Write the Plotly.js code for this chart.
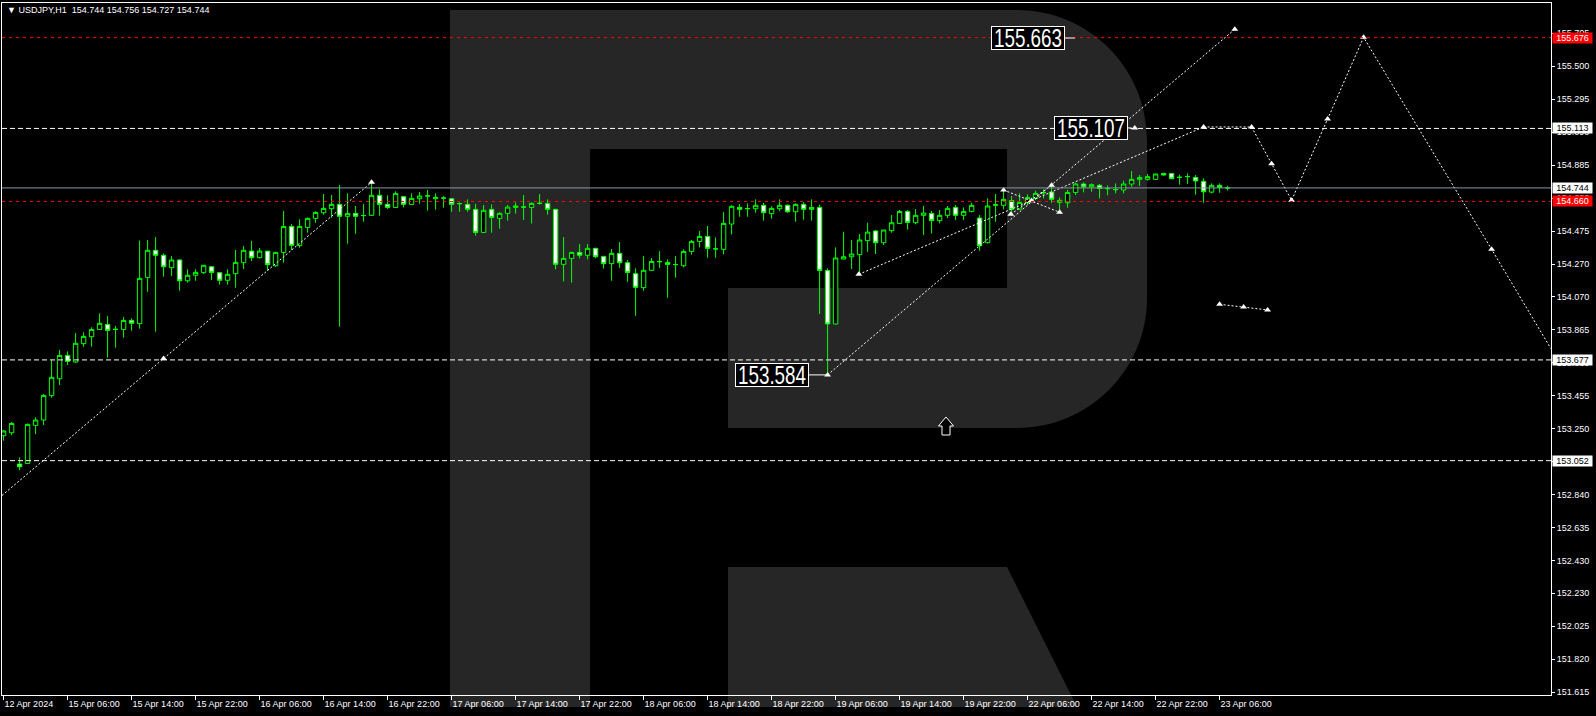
<!DOCTYPE html>
<html><head><meta charset="utf-8">
<script src="https://cdn.plot.ly/plotly-3.0.1.min.js"></script>
<style>html,body{margin:0;padding:0;background:#000;overflow:hidden}#chart{width:1596px;height:716px}</style>
</head><body><div id="chart"></div>
<script>
// ---------- DATA ----------
const opens = [153.207,153.225,153.031,153.035,153.271,153.304,153.455,153.560,153.705,153.664,
153.778,153.821,153.866,153.897,153.866,153.866,153.922,153.902,154.189,154.357,
154.326,154.249,154.297,154.168,154.202,154.218,154.255,154.218,154.171,154.212,
154.280,154.352,154.311,154.352,154.261,154.344,154.505,154.386,154.499,154.555,
154.590,154.615,154.642,154.568,154.586,154.572,154.574,154.698,154.642,154.623,
154.690,154.642,154.677,154.694,154.677,154.681,154.677,154.646,154.642,154.611,
154.468,154.611,154.555,154.586,154.623,154.625,154.623,154.648,154.648,154.611,
154.270,154.307,154.344,154.326,154.369,154.319,154.274,154.338,154.280,154.212,
154.125,154.233,154.286,154.282,154.268,154.261,154.350,154.412,154.443,154.365,
154.363,154.520,154.623,154.615,154.615,154.636,154.584,154.615,154.636,154.596,
154.642,154.611,154.623,154.232,153.900,154.303,154.317,154.330,154.417,154.477,
154.404,154.479,154.524,154.598,154.528,154.574,154.586,154.541,154.574,154.623,
154.574,154.598,154.557,154.404,154.636,154.636,154.665,154.613,154.652,154.679,
154.714,154.718,154.654,154.652,154.716,154.768,154.751,154.760,154.739,154.733,
154.731,154.768,154.797,154.797,154.797,154.834,154.834,154.809,154.814,154.809,
154.785,154.718,154.760,154.744];
const highs = [153.242,153.292,153.072,153.283,153.321,153.465,153.676,153.738,153.730,153.844,
153.848,153.879,153.966,153.949,153.887,153.943,153.935,154.417,154.421,154.439,
154.338,154.321,154.301,154.239,154.239,154.266,154.259,154.222,154.239,154.359,
154.383,154.415,154.371,154.354,154.348,154.601,154.520,154.549,154.561,154.599,
154.706,154.700,154.762,154.710,154.632,154.644,154.776,154.735,154.698,154.723,
154.694,154.710,154.719,154.731,154.710,154.694,154.681,154.654,154.673,154.646,
154.638,154.642,154.594,154.638,154.654,154.700,154.654,154.706,154.673,154.615,
154.439,154.348,154.396,154.396,154.373,154.323,154.365,154.408,154.297,154.245,
154.321,154.309,154.352,154.301,154.321,154.363,154.421,154.477,154.508,154.437,
154.594,154.636,154.644,154.648,154.673,154.652,154.630,154.673,154.642,154.648,
154.656,154.673,154.640,154.245,154.375,154.472,154.421,154.458,154.528,154.483,
154.483,154.576,154.607,154.607,154.613,154.632,154.601,154.607,154.632,154.638,
154.623,154.652,154.576,154.679,154.706,154.741,154.694,154.710,154.704,154.727,
154.735,154.772,154.685,154.731,154.776,154.778,154.772,154.768,154.760,154.772,
154.789,154.849,154.824,154.830,154.834,154.838,154.836,154.826,154.834,154.824,
154.803,154.772,154.772,154.756];
const lows = [153.176,153.211,152.994,153.031,153.217,153.273,153.443,153.521,153.645,153.658,
153.759,153.759,153.862,153.691,153.753,153.815,153.858,153.871,154.100,153.852,
154.193,154.197,154.106,154.156,154.168,154.210,154.173,154.144,154.144,154.125,
154.241,154.290,154.307,154.230,154.255,154.280,154.359,154.373,154.466,154.528,
154.578,154.559,153.883,154.398,154.460,154.534,154.570,154.572,154.613,154.621,
154.623,154.640,154.646,154.603,154.609,154.621,154.596,154.596,154.596,154.448,
154.464,154.466,154.491,154.541,154.584,154.545,154.524,154.640,154.578,154.239,
154.164,154.156,154.307,154.301,154.307,154.243,154.168,154.249,154.162,153.951,
154.106,154.228,154.247,154.063,154.187,154.251,154.330,154.375,154.311,154.311,
154.332,154.456,154.565,154.565,154.590,154.541,154.553,154.599,154.590,154.534,
154.547,154.541,153.962,153.584,153.895,154.301,154.241,154.208,154.348,154.334,
154.390,154.466,154.520,154.485,154.518,154.452,154.462,154.524,154.557,154.545,
154.545,154.592,154.354,154.400,154.534,154.611,154.576,154.607,154.638,154.669,
154.679,154.652,154.596,154.621,154.700,154.716,154.720,154.679,154.698,154.710,
154.710,154.751,154.756,154.789,154.793,154.820,154.799,154.764,154.768,154.702,
154.652,154.710,154.714,154.727];
const closes = [153.236,153.283,153.014,153.277,153.304,153.457,153.569,153.705,153.668,153.780,
153.823,153.866,153.904,153.860,153.867,153.922,153.904,154.183,154.357,154.326,
154.255,154.297,154.168,154.202,154.220,154.264,154.220,154.171,154.208,154.282,
154.357,154.311,154.352,154.268,154.344,154.505,154.388,154.505,154.555,154.592,
154.617,154.642,154.568,154.586,154.568,154.573,154.698,154.642,154.623,154.710,
154.642,154.679,154.694,154.695,154.685,154.681,154.642,154.647,154.611,154.468,
154.605,154.561,154.586,154.625,154.632,154.626,154.648,154.649,154.611,154.270,
154.307,154.344,154.326,154.369,154.317,154.274,154.338,154.280,154.220,154.127,
154.233,154.288,154.287,154.270,154.269,154.350,154.412,154.443,154.369,154.366,
154.524,154.630,154.611,154.616,154.636,154.590,154.617,154.636,154.596,154.642,
154.611,154.623,154.232,153.900,154.309,154.317,154.334,154.421,154.470,154.404,
154.483,154.528,154.598,154.530,154.574,154.588,154.541,154.574,154.617,154.574,
154.598,154.636,154.385,154.632,154.640,154.673,154.611,154.654,154.685,154.710,
154.715,154.673,154.667,154.716,154.768,154.751,154.764,154.741,154.740,154.734,
154.768,154.797,154.809,154.814,154.830,154.824,154.801,154.810,154.815,154.787,
154.720,154.760,154.747,154.744];

const xTickIdx = [0,8,16,24,32,40,48,56,64,72,80,88,96,104,112,120,128,136,144,152];
const xTickText = ["12 Apr 2024","15 Apr 06:00","15 Apr 14:00","15 Apr 22:00","16 Apr 06:00",
"16 Apr 14:00","16 Apr 22:00","17 Apr 06:00","17 Apr 14:00","17 Apr 22:00","18 Apr 06:00",
"18 Apr 14:00","18 Apr 22:00","19 Apr 06:00","19 Apr 14:00","19 Apr 22:00","22 Apr 06:00",
"22 Apr 14:00","22 Apr 22:00","23 Apr 06:00"];
const yTickVals = [155.705,155.500,155.295,155.090,154.885,154.680,154.475,154.270,154.070,153.865,
153.660,153.455,153.250,153.045,152.840,152.635,152.430,152.230,152.025,151.820,151.615];

const redLevels = [155.676, 154.660];
const whiteLevels = [155.113, 153.677, 153.052];
const currentPrice = 154.744;
const titleText = "\u25BC USDJPY,H1\u00a0\u00a0154.744 154.756 154.727 154.744";

// drawn trend / forecast lines (bar index, price)
const lineA_x = [-0.2, 20, 46],          lineA_y = [152.836, 153.686, 154.779];
const lineB_x = [103, 153.9],            lineB_y = [153.584, 155.728];
const lineC_x = [106.9, 150],            lineC_y = [154.208, 155.122];
const lineD_x = [125, 132],              lineD_y = [154.731, 154.593];
const lineE_x = [125.9, 131],            lineE_y = [154.580, 154.760];
const zig_x = [150, 156, 158.5, 161, 165.5, 170, 186, 193.4];
const zig_y = [155.122, 155.122, 154.894, 154.667, 155.171, 155.678, 154.363, 153.748];
const segG_x = [152, 155, 158],          segG_y = [154.022, 154.005, 153.987];
const arrowMark_x = [20, 46, 103, 153.9, 106.9, 150, 125, 132, 125.9, 131, 128.5, 156, 158.5, 161, 165.5, 170, 186, 152, 155, 158, 141.4];
const arrowMark_y = [153.686, 154.779, 153.584, 155.728, 154.208, 155.122, 154.731, 154.593, 154.580, 154.760, 154.665, 155.122, 154.894, 154.667, 155.171, 155.678, 154.363, 154.022, 154.005, 153.987, 155.116];

const bigLabels = [
  {text: "155.663", x: 133.9, y: 155.674, ax: -46.7},
  {text: "155.107", x: 141.0, y: 155.116, ax: -40.6},
  {text: "153.584", x: 103.0, y: 153.584, ax: -55.4}
];

// ---------- LAYOUT HELPERS (pixel -> paper, decorations only) ----------
const PL = 2, PT = 3, PW = 1549, PH = 692;
const pxX = v => (v - PL) / PW;
const pxY = v => (PT + PH - v) / PH;
function pathPx(s) {
  const tok = s.trim().split(/\s+/); let n = 0; const out = [];
  for (const t of tok) {
    if (/^[A-Za-z]$/.test(t)) { out.push(t); continue; }
    const v = parseFloat(t);
    out.push((n % 2 === 0 ? pxX(v) : pxY(v)).toFixed(5)); n++;
  }
  return out.join(' ');
}
const wm = '#262626';
const shapes = [
  {type:'path', xref:'paper', yref:'paper', layer:'below', line:{width:0}, fillcolor:wm,
   path: pathPx('M 450 10 L 1017 10 C 1088.8 10 1147 68.2 1147 140 L 1147 298 C 1147 369.8 1088.8 428 1017 428 L 728 428 L 728 288 L 1007 288 L 1007 149 L 590 149 L 590 707 L 450 707 Z')},
  {type:'path', xref:'paper', yref:'paper', layer:'below', line:{width:0}, fillcolor:wm,
   path: pathPx('M 728 567 L 1007 567 L 1077 707 L 728 707 Z')},
  {type:'path', xref:'paper', yref:'paper', layer:'above', line:{width:1, color:'#ffffff'}, fillcolor:'#000000',
   path: pathPx('M 946 417 L 953.5 426 L 950 426 L 950 435 L 942 435 L 942 426 L 938.5 426 Z')}
];
redLevels.forEach(v => shapes.push({type:'line', xref:'paper', x0:0, x1:1, yref:'y', y0:v, y1:v, layer:'above',
  line:{color:'#ff0000', width:1, dash:'3px,4px'}}));
whiteLevels.forEach(v => shapes.push({type:'line', xref:'paper', x0:0, x1:1, yref:'y', y0:v, y1:v, layer:'above',
  line:{color:'#ffffff', width:1, dash:'5px,3px'}}));
shapes.push({type:'line', xref:'paper', x0:0, x1:1, yref:'y', y0:currentPrice, y1:currentPrice, layer:'above',
  line:{color:'#8a96a3', width:1}});

const annotations = [
  {xref:'paper', yref:'paper', x:pxX(5), y:pxY(10), xanchor:'left', yanchor:'middle', showarrow:false,
   text:titleText, font:{family:'Liberation Sans, DejaVu Sans', size:9, color:'#ffffff'}}
];
function priceBox(v, bg, fg) {
  annotations.push({xref:'paper', yref:'y', x:1, y:v, xanchor:'left', yanchor:'middle', xshift:1,
    showarrow:false, text:v.toFixed(3), bgcolor:bg, width:39, height:10, borderpad:0,
    font:{family:'Liberation Sans, DejaVu Sans', size:9, color:fg}});
}
redLevels.forEach(v => priceBox(v, '#ff0000', '#ffffff'));
whiteLevels.forEach(v => priceBox(v, '#ffffff', '#000000'));
priceBox(currentPrice, '#ffffff', '#000000');
bigLabels.forEach(b => annotations.push({xref:'x', yref:'y', x:b.x, y:b.y, ax:b.ax, ay:0, text:b.text,
  showarrow:true, arrowhead:0, arrowwidth:1, arrowcolor:'#ffffff', bgcolor:'#000000', bordercolor:'#ffffff',
  borderwidth:1, borderpad:1, width:70, height:20,
  font:{family:'Liberation Sans, DejaVu Sans', size:26, color:'#ffffff'}}));

// ---------- TRACES ----------
const idx = opens.map((_, i) => i);
const dotted = {color:'#ffffff', width:1, dash:'2px,2px'};
const traces = [
  {type:'candlestick', x:idx, open:opens, high:highs, low:lows, close:closes, whiskerwidth:0,
   increasing:{line:{color:'#00ff00', width:1}, fillcolor:'#000000'},
   decreasing:{line:{color:'#00ff00', width:1}, fillcolor:'#ffffff'}, hoverinfo:'skip', showlegend:false},
  {type:'scatter', mode:'lines', x:lineA_x, y:lineA_y, line:dotted, hoverinfo:'skip'},
  {type:'scatter', mode:'lines', x:lineB_x, y:lineB_y, line:dotted, hoverinfo:'skip'},
  {type:'scatter', mode:'lines', x:lineC_x, y:lineC_y, line:dotted, hoverinfo:'skip'},
  {type:'scatter', mode:'lines', x:lineD_x, y:lineD_y, line:dotted, hoverinfo:'skip'},
  {type:'scatter', mode:'lines', x:lineE_x, y:lineE_y, line:dotted, hoverinfo:'skip'},
  {type:'scatter', mode:'lines', x:zig_x, y:zig_y, line:dotted, hoverinfo:'skip'},
  {type:'scatter', mode:'lines', x:segG_x, y:segG_y, line:dotted, hoverinfo:'skip'},
  {type:'scatter', mode:'markers', x:arrowMark_x, y:arrowMark_y, cliponaxis:false,
   marker:{symbol:'triangle-up', size:6, color:'#ffffff'}, hoverinfo:'skip'}
];

const axFont = {family:'Liberation Sans, DejaVu Sans', size:9, color:'#ffffff'};
const layout = {
  width:1596, height:716, showlegend:false,
  paper_bgcolor:'#000000', plot_bgcolor:'rgba(0,0,0,0)',
  margin:{l:PL, r:1596-PL-PW, t:PT, b:716-PT-PH, pad:0},
  boxgap:0.45, boxgroupgap:0,
  xaxis:{range:[-0.2, 193.425], showgrid:false, zeroline:false, rangeslider:{visible:false},
    showline:true, linecolor:'#ffffff', linewidth:1, mirror:true,
    tickmode:'array', tickvals:xTickIdx, ticktext:xTickText, ticks:'outside', ticklen:4, tickcolor:'#ffffff',
    ticklabelposition:'outside right', tickfont:axFont, fixedrange:true},
  yaxis:{range:[151.5983, 155.8911], side:'right', showgrid:false, zeroline:false,
    showline:true, linecolor:'#ffffff', linewidth:1, mirror:true,
    tickmode:'array', tickvals:yTickVals, ticktext:yTickVals.map(v => v.toFixed(3)),
    ticks:'outside', ticklen:3, tickcolor:'#ffffff', tickfont:axFont, fixedrange:true},
  shapes:shapes, annotations:annotations
};
Plotly.newPlot('chart', traces, layout, {staticPlot:true, displayModeBar:false}).then(gd => {
  // condense the big price labels horizontally (narrow font look of the original)
  const names = bigLabels.map(b => b.text);
  gd.querySelectorAll('text.annotation-text').forEach(t => {
    if (names.includes(t.textContent)) {
      t.setAttribute('textLength', '68');
      t.setAttribute('lengthAdjust', 'spacingAndGlyphs');
    }
  });
  gd.querySelectorAll('.annotation-text-g').forEach(g => {
    const t = g.querySelector('text.annotation-text');
    if (t && names.includes(t.textContent)) g.removeAttribute('clip-path');
    g.querySelectorAll('[clip-path]').forEach(c => { if (c.querySelector && c.querySelector('text') && names.includes(c.textContent)) c.removeAttribute('clip-path'); });
  });
});
</script></body></html>
